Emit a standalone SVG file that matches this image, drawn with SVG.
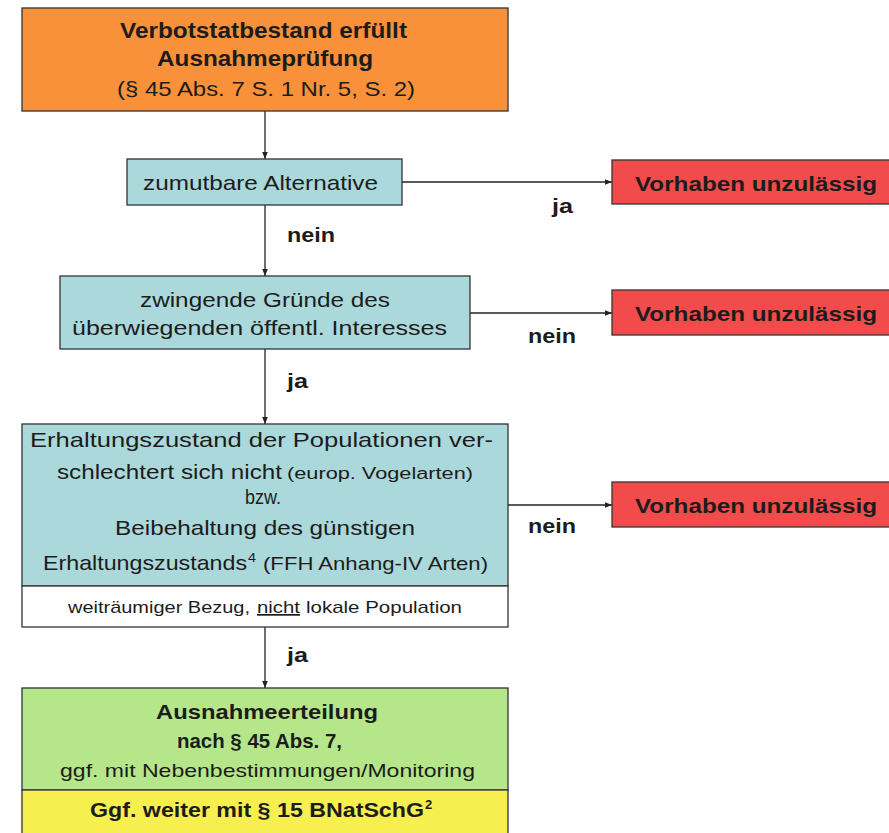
<svg xmlns="http://www.w3.org/2000/svg" width="889" height="833" viewBox="0 0 889 833">
<defs>
<marker id="ah" viewBox="0 0 10 10" refX="10" refY="5" markerWidth="7" markerHeight="7" orient="auto" markerUnits="userSpaceOnUse">
<path d="M0,1 L10,5 L0,9 z" fill="#222"/>
</marker>
<style>
text{font-family:"Liberation Sans",Arial,sans-serif;fill:#1c1c1c}
.b{font-weight:bold}
.box{stroke:#333;stroke-width:1.3}
.teal{fill:#abd8da}
.red{fill:#f24b4b}
.conn{stroke:#222;stroke-width:1.3;fill:none}
.lbl{font-weight:bold;font-size:20px}
</style>
</defs>
<rect width="889" height="833" fill="#ffffff"/>
<g id="connectors">
<line class="conn" x1="265" y1="111" x2="265" y2="159" marker-end="url(#ah)"/>
<line class="conn" x1="265" y1="205" x2="265" y2="276" marker-end="url(#ah)"/>
<line class="conn" x1="265" y1="349" x2="265" y2="424" marker-end="url(#ah)"/>
<line class="conn" x1="265" y1="627" x2="265" y2="688" marker-end="url(#ah)"/>
<line class="conn" x1="402" y1="182" x2="612" y2="182" marker-end="url(#ah)"/>
<line class="conn" x1="470" y1="313" x2="612" y2="313" marker-end="url(#ah)"/>
<line class="conn" x1="508" y1="505" x2="612" y2="505" marker-end="url(#ah)"/>
<text class="lbl" x="287" y="242" textLength="48" lengthAdjust="spacingAndGlyphs">nein</text>
<text class="lbl" x="552" y="213" textLength="21" lengthAdjust="spacingAndGlyphs">ja</text>
<text class="lbl" x="528" y="343" textLength="48" lengthAdjust="spacingAndGlyphs">nein</text>
<text class="lbl" x="287" y="388" textLength="21" lengthAdjust="spacingAndGlyphs">ja</text>
<text class="lbl" x="528" y="533" textLength="48" lengthAdjust="spacingAndGlyphs">nein</text>
<text class="lbl" x="287" y="662" textLength="21" lengthAdjust="spacingAndGlyphs">ja</text>
</g>
<g id="start">
<rect class="box" x="22" y="8" width="486" height="103" fill="#f8913a"/>
<text class="b" x="120" y="38" font-size="22" textLength="287" lengthAdjust="spacingAndGlyphs">Verbotstatbestand erfüllt</text>
<text class="b" x="157" y="66" font-size="22" textLength="216" lengthAdjust="spacingAndGlyphs">Ausnahmeprüfung</text>
<text x="117" y="96" font-size="21" textLength="298" lengthAdjust="spacingAndGlyphs">(§ 45 Abs. 7 S. 1 Nr. 5, S. 2)</text>
</g>
<g id="alternative">
<rect class="box teal" x="127" y="159" width="275" height="46"/>
<text x="143" y="190" font-size="21" textLength="235" lengthAdjust="spacingAndGlyphs">zumutbare Alternative</text>
</g>
<g id="gruende">
<rect class="box teal" x="60" y="276" width="410" height="73"/>
<text x="140" y="307" font-size="21" textLength="250" lengthAdjust="spacingAndGlyphs">zwingende Gründe des</text>
<text x="72" y="335" font-size="21" textLength="375" lengthAdjust="spacingAndGlyphs">überwiegenden öffentl. Interesses</text>
</g>
<g id="erhaltung">
<rect class="box teal" x="22" y="424" width="486" height="162"/>
<rect class="box" x="22" y="586" width="486" height="41" fill="#ffffff"/>
<text x="30" y="447" font-size="21" textLength="463" lengthAdjust="spacingAndGlyphs">Erhaltungszustand der Populationen ver-</text>
<text x="57" y="479" font-size="21" textLength="225" lengthAdjust="spacingAndGlyphs">schlechtert sich nicht</text>
<text x="287" y="479" font-size="16" textLength="186" lengthAdjust="spacingAndGlyphs">(europ. Vogelarten)</text>
<text x="245" y="504" font-size="21" textLength="36" lengthAdjust="spacingAndGlyphs">bzw.</text>
<text x="115" y="535" font-size="21" textLength="300" lengthAdjust="spacingAndGlyphs">Beibehaltung des günstigen</text>
<text x="43" y="570" font-size="21" textLength="204" lengthAdjust="spacingAndGlyphs">Erhaltungszustands</text>
<text x="248" y="562" font-size="12" textLength="8" lengthAdjust="spacingAndGlyphs">4</text>
<text x="263" y="570" font-size="19" textLength="225" lengthAdjust="spacingAndGlyphs">(FFH Anhang-IV Arten)</text>
<text x="68" y="613" font-size="17" textLength="182" lengthAdjust="spacingAndGlyphs">weiträumiger Bezug,</text>
<text x="257" y="613" font-size="17" textLength="43" lengthAdjust="spacingAndGlyphs" text-decoration="underline">nicht</text>
<text x="306" y="613" font-size="17" textLength="156" lengthAdjust="spacingAndGlyphs">lokale Population</text>
</g>
<g id="ausnahme">
<rect class="box" x="22" y="688" width="486" height="102" fill="#b6e68a"/>
<rect class="box" x="22" y="790" width="486" height="50" fill="#f6ef4f"/>
<text class="b" x="156" y="719" font-size="21" textLength="222" lengthAdjust="spacingAndGlyphs">Ausnahmeerteilung</text>
<text class="b" x="177" y="748" font-size="21" textLength="165" lengthAdjust="spacingAndGlyphs">nach § 45 Abs. 7,</text>
<text x="60" y="777" font-size="19" textLength="415" lengthAdjust="spacingAndGlyphs">ggf. mit Nebenbestimmungen/Monitoring</text>
<text class="b" x="90" y="817" font-size="20" textLength="334" lengthAdjust="spacingAndGlyphs">Ggf. weiter mit § 15 BNatSchG</text>
<text class="b" x="425" y="809" font-size="13">2</text>
</g>
<g id="unzulaessig1">
<rect class="box red" x="612" y="160" width="285" height="44"/>
<text class="b" x="635" y="191" font-size="21" textLength="242" lengthAdjust="spacingAndGlyphs">Vorhaben unzulässig</text>
</g>
<g id="unzulaessig2">
<rect class="box red" x="612" y="290" width="285" height="45"/>
<text class="b" x="635" y="321" font-size="21" textLength="242" lengthAdjust="spacingAndGlyphs">Vorhaben unzulässig</text>
</g>
<g id="unzulaessig3">
<rect class="box red" x="612" y="482" width="285" height="45"/>
<text class="b" x="635" y="513" font-size="21" textLength="242" lengthAdjust="spacingAndGlyphs">Vorhaben unzulässig</text>
</g>
</svg>
